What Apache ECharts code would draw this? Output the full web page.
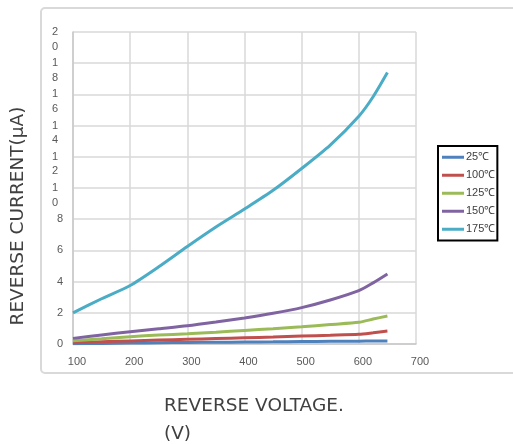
<!DOCTYPE html>
<html>
<head>
<meta charset="utf-8">
<script src="https://cdn.jsdelivr.net/npm/echarts@6/dist/echarts.min.js"></script>
<style>
  html, body { margin: 0; padding: 0; background: #fff; }
  #chart { width: 513px; height: 444px; }
</style>
</head>
<body>
<div id="chart"></div>
<script>
// Reverse voltage (V) sample points
const voltages = [100, 150, 200, 250, 300, 350, 400, 450, 500, 550, 600, 625, 650];

// Reverse current (µA) at each junction temperature
const current25 = [0.02, 0.04, 0.06, 0.08, 0.10, 0.11, 0.13, 0.14, 0.16, 0.17, 0.18, 0.19, 0.20];
const current100 = [0.08, 0.14, 0.20, 0.25, 0.30, 0.35, 0.40, 0.45, 0.51, 0.56, 0.62, 0.72, 0.83];
const current125 = [0.21, 0.34, 0.47, 0.57, 0.66, 0.76, 0.87, 0.98, 1.10, 1.25, 1.39, 1.60, 1.80];
const current150 = [0.36, 0.58, 0.79, 0.98, 1.17, 1.41, 1.67, 1.97, 2.33, 2.82, 3.42, 3.92, 4.49];
const current175 = [2.00, 2.90, 3.75, 4.95, 6.25, 7.50, 8.65, 9.85, 11.25, 12.75, 14.60, 15.85, 17.40];

const seriesNames = ['25℃', '100℃', '125℃', '150℃', '175℃'];
const seriesData = [current25, current100, current125, current150, current175];
const seriesColors = ['#4F81BD', '#C0504D', '#9BBB59', '#8064A2', '#4BACC6'];

const xTicks = [100, 200, 300, 400, 500, 600, 700];
const yTicks = [0, 2, 4, 6, 8, 10, 12, 14, 16, 18, 20];

const chart = echarts.init(document.getElementById('chart'), null, { renderer: 'canvas' });

const gridLine = { show: true, lineStyle: { color: '#D9D9D9', width: 1.5 } };

chart.setOption({
  animation: false,
  backgroundColor: '#fff',
  grid: { left: 73, top: 32, right: 97, bottom: 100, containLabel: false },
  xAxis: {
    type: 'value',
    min: xTicks[0],
    max: xTicks[xTicks.length - 1],
    interval: 100,
    axisLine: { show: true, lineStyle: { color: '#C8C8C8', width: 1.5 } },
    axisTick: { show: false },
    splitLine: gridLine,
    axisLabel: {
      color: '#595959', fontSize: 11, fontFamily: 'Liberation Sans',
      margin: 12, padding: [0, 0, 0, 8],
      showMinLabel: true, showMaxLabel: true
    }
  },
  yAxis: {
    type: 'value',
    min: yTicks[0],
    max: yTicks[yTicks.length - 1],
    interval: 2,
    axisLine: { show: true, lineStyle: { color: '#C8C8C8', width: 1.5 } },
    axisTick: { show: false },
    splitLine: gridLine,
    axisLabel: {
      color: '#595959', fontSize: 11, fontFamily: 'Liberation Sans',
      margin: 10, lineHeight: 14.5,
      verticalAlign: 'top',
      // first text line sits level with its tick; extra lines hang below
      padding: [-7.25, 0, 0, 0],
      showMinLabel: true, showMaxLabel: true, hideOverlap: false,
      formatter: function (v) {
        const s = String(v);
        if (s.length < 2) return s;
        // two-digit values wrap one digit per line
        return s.split('').map(d => '{m|' + d + '}').join('\n');
      },
      rich: {
        m: { color: '#595959', fontSize: 11, fontFamily: 'Liberation Sans', lineHeight: 14.5, padding: [0, 5, 0, 0] }
      }
    }
  },
  legend: {
    orient: 'vertical',
    left: 438,
    top: 146,
    data: seriesNames.map(n => ({ name: n, icon: 'rect' })),
    borderColor: '#000',
    borderWidth: 2,
    padding: [5, 2, 5, 4],
    itemWidth: 22,
    itemHeight: 3,
    itemGap: 5.5,
    textStyle: { color: '#404040', fontSize: 11, fontFamily: 'Liberation Sans', lineHeight: 12.5, padding: [0, 0, 0, -3] }
  },
  series: seriesNames.map((name, i) => ({
    name: name,
    type: 'line',
    data: voltages.map((v, k) => [v, seriesData[i][k]]),
    showSymbol: false,
    symbol: 'none',
    smooth: 0.25,
    lineStyle: { color: seriesColors[i], width: 3 },
    itemStyle: { color: seriesColors[i] },
    z: 2 + i
  })),
  graphic: [
    {
      type: 'rect',
      shape: { x: 41, y: 8, width: 500, height: 365, r: 4 },
      style: { fill: 'none', stroke: '#D9D9D9', lineWidth: 2 },
      silent: true,
      z: -1
    },
    {
      type: 'text',
      x: 18,
      y: 216,
      rotation: Math.PI / 2,
      style: {
        text: 'REVERSE CURRENT(μA)',
        fill: '#404040',
        font: '18.5px "DejaVu Sans"',
        align: 'center',
        verticalAlign: 'middle'
      }
    },
    {
      type: 'text',
      x: 164,
      y: 392,
      style: {
        text: 'REVERSE VOLTAGE.\n(V)',
        fill: '#404040',
        font: '18.5px "DejaVu Sans"',
        lineHeight: 28,
        align: 'left',
        verticalAlign: 'top'
      }
    }
  ]
});
</script>
</body>
</html>
